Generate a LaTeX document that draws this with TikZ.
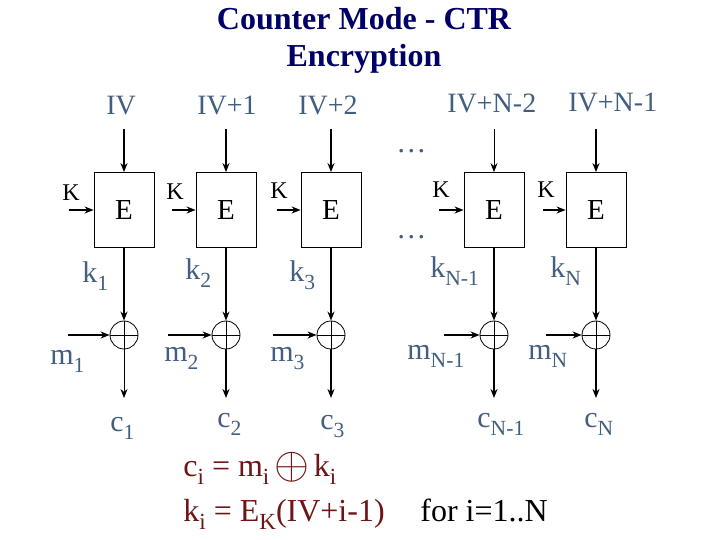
\documentclass[tikz,border=0pt]{standalone}
\usepackage{fontspec}
\setmainfont{Liberation Serif}
\usetikzlibrary{arrows.meta, positioning}
\definecolor{labelblue}{RGB}{66,94,128}
\definecolor{titlenavy}{RGB}{0,0,102}
\definecolor{formulared}{RGB}{110,20,20}
\newcommand{\lsub}[1]{\raisebox{-0.25em}{\scalebox{0.72}{#1}}}

\begin{document}
\begin{tikzpicture}[
    x=0.5pt, y=-0.5pt,
    encbox/.style={draw, thin, minimum width=30pt, minimum height=37.5pt, inner sep=0pt, font=\fontsize{14.5pt}{16pt}\selectfont},
    xorgate/.style={draw, thin, circle, minimum size=14pt, inner sep=0pt},
    lbl/.style={anchor=base west, inner sep=0pt, text=labelblue, font=\fontsize{15pt}{18pt}\selectfont},
    ivlbl/.style={lbl, font=\fontsize{14pt}{16pt}\selectfont},
    keylbl/.style={anchor=base west, inner sep=0pt, font=\fontsize{12pt}{14pt}\selectfont},
    formula/.style={anchor=base west, inner sep=0pt, font=\fontsize{16pt}{19pt}\selectfont},
    arrow/.style={-{Stealth[length=4.5pt, width=3.5pt]}, thick}
]
    \useasboundingbox (0,0) rectangle (720,540);

    % Title
    \node[anchor=north, inner sep=0pt, align=center, text=titlenavy, font=\bfseries\fontsize{16pt}{18.5pt}\selectfont] (title) at (364,7) {Counter Mode - CTR\\Encryption};

    % Counter inputs
    \node[ivlbl] (iv1) at (106,115) {IV};
    \node[ivlbl] (iv2) at (197,115) {IV+1};
    \node[ivlbl] (iv3) at (298,115) {IV+2};
    \node[ivlbl] (iv4) at (447,113) {IV+N-2};
    \node[ivlbl] (iv5) at (568,112) {IV+N-1};
    \node[ivlbl, font=\fontsize{15pt}{16pt}\selectfont] (dotsa) at (396,153) {\ldots};
    \node[ivlbl, font=\fontsize{15pt}{16pt}\selectfont] (dotsb) at (396,239) {\ldots};

    % Encryption blocks
    \node[encbox] (e1) at (124,210) {E};
    \node[encbox] (e2) at (226,210) {E};
    \node[encbox] (e3) at (331,210) {E};
    \node[encbox] (e4) at (494,210) {E};
    \node[encbox] (e5) at (596,210) {E};

    % Keys
    \node[keylbl] (key1) at (62,201) {K};
    \node[keylbl] (key2) at (166,200) {K};
    \node[keylbl] (key3) at (270,199) {K};
    \node[keylbl] (key4) at (432,198) {K};
    \node[keylbl] (key5) at (537,198) {K};
    \coordinate (kin1) at (69,210);
    \coordinate (kin2) at (172,210);
    \coordinate (kin3) at (277,210);
    \coordinate (kin4) at (439,210);
    \coordinate (kin5) at (543,210);

    % Keystream labels
    \node[lbl] (ks1) at (82,283) {k\lsub{1}};
    \node[lbl] (ks2) at (185,280) {k\lsub{2}};
    \node[lbl] (ks3) at (289,282) {k\lsub{3}};
    \node[lbl] (ks4) at (430,278) {k\lsub{N-1}};
    \node[lbl] (ks5) at (550,278) {k\lsub{N}};

    % XOR gates
    \node[xorgate] (x1) at (124,335) {};
    \node[xorgate] (x2) at (226,335) {};
    \node[xorgate] (x3) at (331,335) {};
    \node[xorgate] (x4) at (494,335) {};
    \node[xorgate] (x5) at (596,335) {};

    % Plaintext
    \node[lbl] (m1) at (50,365) {m\lsub{1}};
    \node[lbl] (m2) at (164,362) {m\lsub{2}};
    \node[lbl] (m3) at (270,362) {m\lsub{3}};
    \node[lbl] (m4) at (407,360) {m\lsub{N-1}};
    \node[lbl] (m5) at (528,360) {m\lsub{N}};
    \coordinate (min1) at (68,335);
    \coordinate (min2) at (168,335);
    \coordinate (min3) at (273,335);
    \coordinate (min4) at (444,335);
    \coordinate (min5) at (546,335);

    % Ciphertext
    \node[lbl] (c1) at (110,432) {c\lsub{1}};
    \node[lbl] (c2) at (217,428) {c\lsub{2}};
    \node[lbl] (c3) at (320,430) {c\lsub{3}};
    \node[lbl] (c4) at (477,428) {c\lsub{N-1}};
    \node[lbl] (c5) at (584,428) {c\lsub{N}};
    \coordinate (cout1) at (124,398);
    \coordinate (cout2) at (226,398);
    \coordinate (cout3) at (331,398);
    \coordinate (cout4) at (494,398);
    \coordinate (cout5) at (596,398);

    % Counter arrows
    \coordinate (ivin1) at (124,129);
    \coordinate (ivin2) at (226,129);
    \coordinate (ivin3) at (331,129);
    \coordinate (ivin4) at (494,129);
    \coordinate (ivin5) at (596,129);
    \draw[arrow] (ivin1) -- (e1.north);
    \draw[arrow] (ivin2) -- (e2.north);
    \draw[arrow] (ivin3) -- (e3.north);
    \draw[arrow, thin] (ivin4) -- (e4.north);
    \draw[arrow] (ivin5) -- (e5.north);

    % Key arrows
    \draw[arrow] (kin1) -- (e1.west);
    \draw[arrow] (kin2) -- (e2.west);
    \draw[arrow] (kin3) -- (e3.west);
    \draw[arrow] (kin4) -- (e4.west);
    \draw[arrow] (kin5) -- (e5.west);

    % Keystream arrows
    \draw[arrow] (e1.south) -- (x1.north);
    \draw[arrow] (e2.south) -- (x2.north);
    \draw[arrow] (e3.south) -- (x3.north);
    \draw[arrow] (e4.south) -- (x4.north);
    \draw[arrow] (e5.south) -- (x5.north);

    % Plaintext arrows
    \draw[arrow] (min1) -- (x1.west);
    \draw[arrow] (min2) -- (x2.west);
    \draw[arrow] (min3) -- (x3.west);
    \draw[arrow] (min4) -- (x4.west);
    \draw[arrow] (min5) -- (x5.west);

    % Crosses
    \draw[thin] (x1.north) -- (x1.south) (x1.west) -- (x1.east);
    \draw[thin] (x2.north) -- (x2.south) (x2.west) -- (x2.east);
    \draw[thin] (x3.north) -- (x3.south) (x3.west) -- (x3.east);
    \draw[thin] (x4.north) -- (x4.south) (x4.west) -- (x4.east);
    \draw[thin] (x5.north) -- (x5.south) (x5.west) -- (x5.east);

    % Ciphertext arrows
    \draw[arrow, thin] (x1.south) -- (cout1);
    \draw[arrow] (x2.south) -- (cout2);
    \draw[arrow] (x3.south) -- (cout3);
    \draw[arrow] (x4.south) -- (cout4);
    \draw[arrow] (x5.south) -- (cout5);

    % Formulas
    \node[formula, text=formulared] (f1) at (183,477) {c\lsub{i} = m\lsub{i}\hspace{0.15em}\raisebox{-0.05em}{\scalebox{1.3}{$\oplus$}}\hspace{0.15em}k\lsub{i}};
    \node[formula, text=formulared] (f2) at (183,522) {k\lsub{i} = E\lsub{K}(IV+i-1)};
    \node[formula] (f3) at (420,522) {for i=1..N};
\end{tikzpicture}
\end{document}
